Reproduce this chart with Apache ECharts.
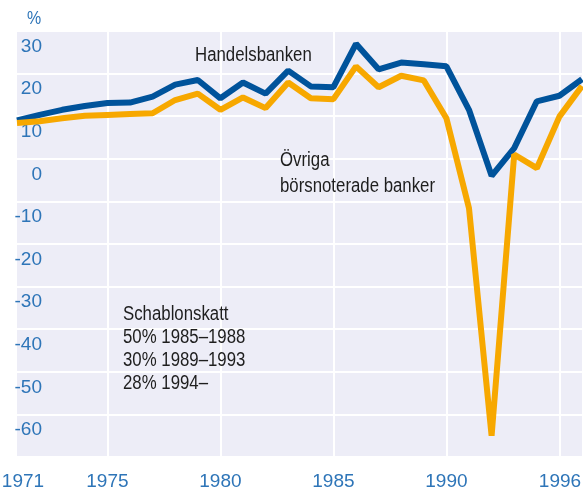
<!DOCTYPE html>
<html>
<head>
<meta charset="utf-8">
<script src="https://cdn.jsdelivr.net/npm/echarts@6/dist/echarts.min.js"></script>
<style>
html,body{margin:0;padding:0;background:#fff;}
#c{width:583px;height:489px;}
</style>
</head>
<body>
<div id="c"></div>
<script>
const years = ['1971','1972','1973','1974','1975','1976','1977','1978','1979','1980','1981','1982','1983','1984','1985','1986','1987','1988','1989','1990','1991','1992','1993','1994','1995','1996'];
const handelsbanken = [9.0,10.3,11.5,12.4,13.1,13.2,14.6,17.4,18.5,14.2,17.9,15.3,20.7,17.0,16.8,27.0,21.0,22.6,22.2,21.7,11.5,-4.0,2.5,13.5,14.8,18.7];
const ovriga = [8.4,8.8,9.5,10.1,10.3,10.5,10.7,13.8,15.3,11.5,14.4,11.9,17.9,14.2,14.0,21.7,16.8,19.5,18.4,9.5,-11.6,-65.0,1.0,-2.2,9.9,17.1];
const xTickLabels = ['1971','1975','1980','1985','1990','1996'];
const xGridYears = ['1975','1980','1985','1990','1995'];
const yTickLabels = [30,20,10,0,-10,-20,-30,-40,-50,-60];
const unitLabel = '%';
const labelHandels = 'Handelsbanken';
const labelOvriga = ['Övriga','börsnoterade banker'];
const labelSchablon = ['Schablonskatt','50% 1985–1988','30% 1989–1993','28% 1994–'];

const FONT = '"Liberation Sans",Arial,sans-serif';
const BLUE_TXT = '#2e75b8';
const TXT = '#1e1e1e';
const NARROW = 0.84;

const chart = echarts.init(document.getElementById('c'), null, {renderer:'canvas'});

const graphics = [];
graphics.push({type:'text', z:100, x:27, y:19, scaleX:NARROW, style:{text:unitLabel, fill:BLUE_TXT, font:'19px '+FONT, verticalAlign:'middle'}});
graphics.push({type:'text', z:100, x:195, y:55, scaleX:NARROW, style:{text:labelHandels, fill:TXT, font:'20px '+FONT, verticalAlign:'middle'}});
const ovY = [160, 186];
labelOvriga.forEach((t,i)=>graphics.push({type:'text', z:100, x:280, y:ovY[i], scaleX:NARROW, style:{text:t, fill:TXT, font:'20px '+FONT, verticalAlign:'middle'}}));
const scY = [314, 337, 360, 383];
labelSchablon.forEach((t,i)=>graphics.push({type:'text', z:100, x:123, y:scY[i], scaleX:NARROW, style:{text:t, fill:TXT, font:'20px '+FONT, verticalAlign:'middle'}}));

chart.setOption({
  animation:false,
  backgroundColor:'#ffffff',
  grid:{left:17, right:1, top:31, bottom:32, show:true, backgroundColor:'#ededf7', borderWidth:0, outerBoundsMode:'none', containLabel:false},
  xAxis:{
    type:'category', data:years, boundaryGap:false,
    axisLine:{show:false}, axisTick:{show:false},
    axisLabel:{
      interval:(i,v)=>xTickLabels.includes(v),
      margin:15, color:BLUE_TXT, fontFamily:FONT, fontSize:19,
      formatter:(v)=> v===xTickLabels[0] ? '{first|'+v+'}' : (v===xTickLabels[xTickLabels.length-1] ? '{last|'+v+'}' : v),
      rich:{
        first:{padding:[0,0,0,12], color:BLUE_TXT, fontFamily:FONT, fontSize:19},
        last:{padding:[0,44,0,0], color:BLUE_TXT, fontFamily:FONT, fontSize:19}
      }
    },
    splitLine:{show:true, interval:(i,v)=>xGridYears.includes(v), lineStyle:{color:'#ffffff', width:2}}
  },
  yAxis:{
    type:'value', min:-70, max:30, interval:10,
    axisLine:{show:false}, axisTick:{show:false},
    axisLabel:{
      inside:true, align:'right', margin:25, verticalAlign:'top', padding:[6,0,0,0],
      color:BLUE_TXT, fontFamily:FONT, fontSize:19,
      formatter:(v)=> yTickLabels.includes(v) ? String(v) : ''
    },
    splitLine:{show:true, lineStyle:{color:'#ffffff', width:2}}
  },
  graphic:graphics,
  series:[
    {name:'Handelsbanken', type:'line', data:handelsbanken, symbol:'none', lineStyle:{color:'#00539b', width:6}, z:2},
    {name:'Övriga börsnoterade banker', type:'line', data:ovriga, symbol:'none', lineStyle:{color:'#f7a800', width:6}, z:3}
  ]
});
</script>
</body>
</html>
